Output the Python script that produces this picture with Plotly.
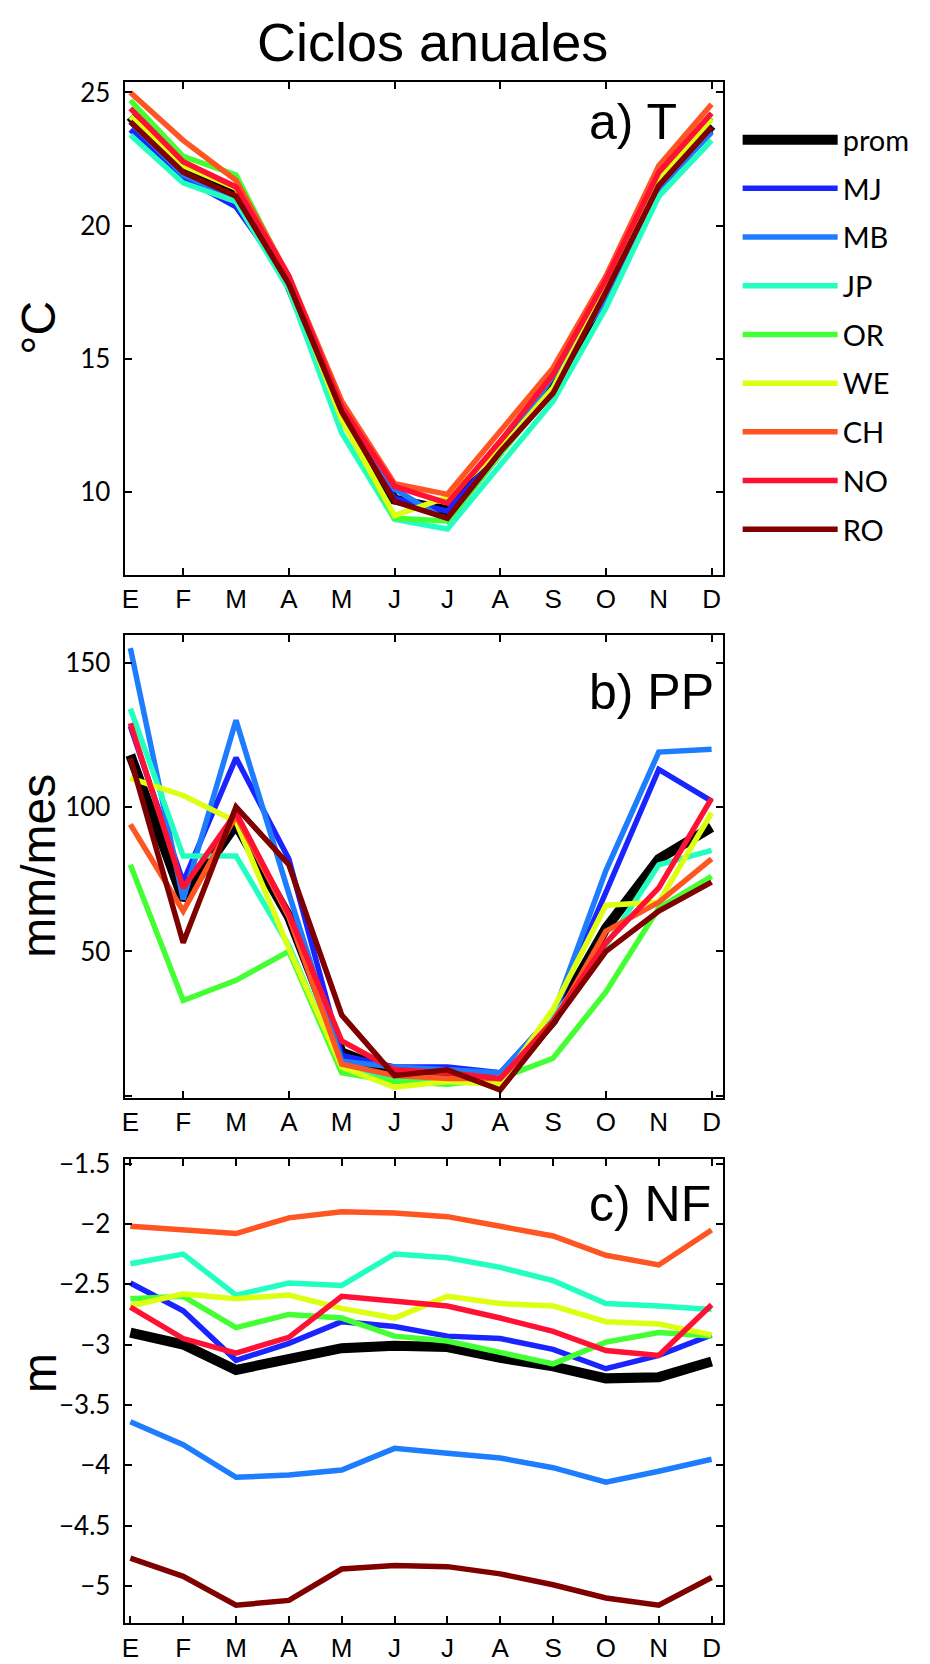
import plotly.graph_objects as go

# Ciclos anuales: T, PP y NF por estacion
months = ["E", "F", "M", "A", "M", "J", "J", "A", "S", "O", "N", "D"]
month_num = list(range(1, 13))

names = ["prom", "MJ", "MB", "JP", "OR", "WE", "CH", "NO", "RO"]
colors = ["#000000", "#1a24ff", "#1e7dff", "#22ffc0", "#44ff33",
          "#ddff11", "#ff5522", "#ff1133", "#800000"]
widths = [10, 5.5, 5.5, 5.5, 5.5, 5.5, 5.5, 5.5, 5.5]

# a) T (°C)
t_prom = [24.1, 22.0, 21.25, 17.8, 12.95, 9.7, 9.3, 11.6, 13.9, 17.5, 21.6, 23.76]
t_mj = [23.6, 21.8, 20.7, 17.9, 13.1, 9.75, 9.27, 11.5, 14.5, 17.2, 21.4, 23.55]
t_mb = [23.9, 21.9, 21.0, 17.9, 13.0, 10.1, 8.9, 11.4, 14.35, 17.2, 21.4, 23.5]
t_jp = [23.4, 21.6, 20.9, 17.6, 12.2, 8.96, 8.6, 11.0, 13.4, 16.9, 21.1, 23.2]
t_or = [24.7, 22.6, 21.9, 18.0, 12.75, 9.0, 8.9, 11.4, 13.8, 17.6, 21.75, 24.05]
t_we = [24.1, 22.25, 21.4, 18.0, 12.7, 9.1, 9.8, 11.6, 13.9, 17.6, 21.7, 24.0]
t_ch = [25.0, 23.2, 21.7, 18.1, 13.4, 10.3, 9.9, 12.3, 14.65, 18.1, 22.25, 24.56]
t_no = [24.4, 22.4, 21.45, 18.1, 13.2, 10.2, 9.57, 11.9, 14.4, 17.96, 22.0, 24.22]
t_ro = [23.9, 22.0, 21.1, 17.8, 13.0, 9.63, 9.0, 11.5, 13.7, 17.5, 21.5, 23.7]

# b) PP (mm/mes)
pp_prom = [118, 68, 94, 62, 15, 8, 8, 5, 26, 58, 82, 93]
pp_mj = [128, 74, 117, 82, 14, 10, 10, 8, 28, 70, 113, 102]
pp_mb = [155, 68, 130, 70, 12, 10, 9, 8, 28, 78, 119, 120]
pp_jp = [134, 83, 83, 52, 10, 6, 6, 5, 27, 52, 80, 85]
pp_or = [80, 33, 40, 50, 8, 5, 4, 6, 13, 36, 65, 76]
pp_we = [110, 104, 95, 51, 10, 3, 5, 4, 30, 66, 67, 98]
pp_ch = [94, 64, 97, 62, 11, 7, 6, 6, 25, 57, 67, 82]
pp_no = [129, 72, 98, 63, 19, 9, 8, 6, 26, 53, 72, 103]
pp_ro = [117, 53, 100, 80, 28, 7, 9, 2, 25, 50, 64, 74]

# c) NF (m)
nf_prom = [-2.9, -3.0, -3.21, -3.13, -3.03, -3.01, -3.02, -3.11, -3.18, -3.28, -3.27, -3.14]
nf_mj = [-2.49, -2.72, -3.13, -2.99, -2.81, -2.85, -2.93, -2.95, -3.04, -3.2, -3.09, -2.92]
nf_mb = [-3.64, -3.83, -4.1, -4.08, -4.04, -3.86, -3.9, -3.94, -4.02, -4.14, -4.05, -3.95]
nf_jp = [-2.33, -2.25, -2.59, -2.49, -2.51, -2.25, -2.28, -2.36, -2.47, -2.66, -2.68, -2.71]
nf_or = [-2.62, -2.6, -2.86, -2.75, -2.78, -2.93, -2.97, -3.06, -3.16, -2.98, -2.9, -2.93]
nf_we = [-2.68, -2.58, -2.62, -2.59, -2.7, -2.78, -2.6, -2.66, -2.68, -2.81, -2.83, -2.92]
nf_ch = [-2.02, -2.05, -2.08, -1.95, -1.9, -1.91, -1.94, -2.02, -2.1, -2.26, -2.34, -2.05]
nf_no = [-2.69, -2.95, -3.07, -2.94, -2.6, -2.64, -2.68, -2.78, -2.89, -3.05, -3.09, -2.67]
nf_ro = [-4.77, -4.92, -5.16, -5.12, -4.86, -4.83, -4.84, -4.9, -4.99, -5.1, -5.16, -4.93]

panels = [
    [t_prom, t_mj, t_mb, t_jp, t_or, t_we, t_ch, t_no, t_ro],
    [pp_prom, pp_mj, pp_mb, pp_jp, pp_or, pp_we, pp_ch, pp_no, pp_ro],
    [nf_prom, nf_mj, nf_mb, nf_jp, nf_or, nf_we, nf_ch, nf_no, nf_ro],
]
panel_labels = ["a) T", "b) PP", "c) NF"]
y_titles = ["°C", "mm/mes", "m"]

W, H = 930, 1664
x_dom = [114 / W, 714 / W]
# panel boxes in pixels (top, bottom)
boxes = [(62, 559), (619, 1086), (1147, 1615)]
y_doms = [[1 - b / H, 1 - t / H] for t, b in boxes]
label_y = [103, 677, 1193]
title_y = [310, 852, 1363]

fig = go.Figure()
for p, series in enumerate(panels):
    suffix = "" if p == 0 else str(p + 1)
    for name, vals, col, w in zip(names, series, colors, widths):
        fig.add_trace(go.Scatter(
            x=month_num, y=vals, mode="lines", name=name,
            line=dict(color=col, width=w),
            legendgroup=name, showlegend=(p == 0),
            xaxis="x" + suffix, yaxis="y" + suffix))

tick_font = dict(family="Liberation Sans, Arial", size=26, color="black")
ytick_font = dict(family="Lato, Open Sans", size=26, color="black")
axis_common = dict(showline=True, linecolor="black", linewidth=2, mirror="ticks",
                   showgrid=False, zeroline=False, tickcolor="black", tickwidth=2)

layout = dict(
    width=W, height=H, paper_bgcolor="white", plot_bgcolor="white",
    margin=dict(l=0, r=0, t=0, b=0),
    legend=dict(x=729 / W, y=1 - 95 / H, xanchor="left", yanchor="top",
                font=dict(family="Lato, Open Sans", size=29, color="black"),
                traceorder="grouped", tracegroupgap=8, itemwidth=95,
                bgcolor="rgba(0,0,0,0)"),
    showlegend=True,
)

y_ranges = [[6.87, 25.41], [-0.8, 159.7], [-5.31, -1.46]]
y_ticks = [
    dict(tickvals=[10, 15, 20, 25]),
    dict(tickvals=[0, 50, 100, 150], ticktext=["", "50", "100", "150"]),
    dict(tickvals=[-5, -4.5, -4, -3.5, -3, -2.5, -2, -1.5]),
]

for p in range(3):
    suffix = "" if p == 0 else str(p + 1)
    xa = dict(axis_common, domain=x_dom, anchor="y" + suffix, range=[0.892, 12.21],
              tickvals=month_num, ticktext=months, tickfont=tick_font)
    if p < 2:
        xa.update(ticks="", minor=dict(tickvals=[2, 4, 6, 8, 10, 12], ticks="inside",
                                       ticklen=7, tickcolor="black", tickwidth=2))
    else:
        xa.update(ticks="inside", ticklen=7)
    ya = dict(axis_common, domain=y_doms[p], anchor="x" + suffix, range=y_ranges[p],
              ticks="inside", ticklen=7, tickfont=ytick_font, ticklabelstandoff=7,
              **y_ticks[p])
    layout["xaxis" + suffix] = xa
    layout["yaxis" + suffix] = ya

fig.update_layout(**layout)

annotations = [dict(text="Ciclos anuales", x=423 / W, y=1 - 22 / H, xref="paper",
                    yref="paper", xanchor="center", yanchor="middle", showarrow=False,
                    font=dict(family="Liberation Sans, Arial", size=54, color="black"))]
for p in range(3):
    annotations.append(dict(text=panel_labels[p], x=578 / W, y=1 - label_y[p] / H,
                            xref="paper", yref="paper", xanchor="left",
                            yanchor="middle", showarrow=False,
                            font=dict(family="Liberation Sans, Arial", size=50,
                                      color="black")))
    annotations.append(dict(text=y_titles[p], x=28 / W, y=1 - title_y[p] / H,
                            xref="paper", yref="paper", textangle=-90,
                            xanchor="center", yanchor="middle", showarrow=False,
                            font=dict(family="Liberation Sans, Arial", size=48,
                                      color="black")))
fig.update_layout(annotations=annotations)

fig.write_html("out.html")
